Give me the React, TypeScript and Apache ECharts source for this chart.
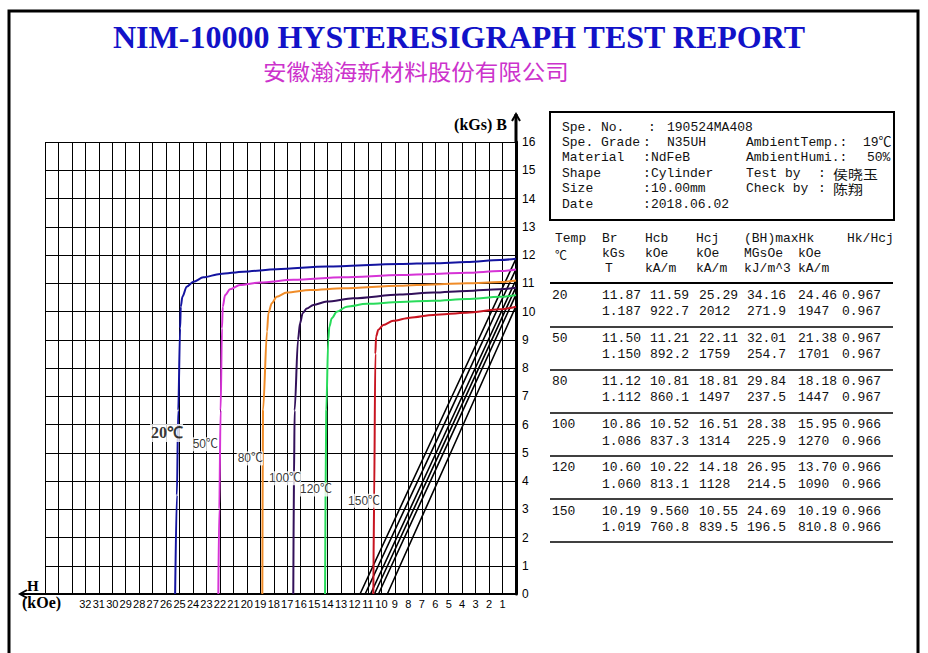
import React, { useEffect, useRef } from "react";
import * as echarts from "echarts";

// ---------- data ----------
const TEMPS = ["20", "50", "80", "100", "120", "150"];
const CURVE_COLORS = ["#1414a0", "#d633d6", "#f08c28", "#32105a", "#28dc5a", "#c81420"];

// intrinsic (J-H) curves: [H kOe, B kGs]
const J20 = [[0, 11.87], [1.19, 11.82], [3.66, 11.75], [6.14, 11.71], [8.62, 11.68], [14.06, 11.59], [17.78, 11.5], [20.26, 11.41], [21.99, 11.33], [23.23, 11.21], [23.97, 11.05], [24.47, 10.88], [24.79, 10.52], [24.91, 10.17], [24.96, 9.4], [25.1, 6.5], [25.2, 3.5], [25.33, 0]];
const J50 = [[0, 11.49], [1.19, 11.43], [3.66, 11.37], [6.14, 11.33], [8.62, 11.29], [12.83, 11.21], [16.54, 11.12], [19.02, 11.03], [20.51, 10.94], [21.25, 10.79], [21.62, 10.58], [21.79, 10.17], [21.85, 9.4], [21.95, 6.5], [22.05, 3.0], [22.12, 0]];
const J80 = [[0, 11.1], [1.19, 11.04], [3.66, 11.0], [6.14, 10.96], [8.62, 10.91], [12.83, 10.82], [15.3, 10.76], [17.04, 10.67], [17.78, 10.52], [18.15, 10.29], [18.4, 9.94], [18.5, 9.3], [18.8, 6.5], [18.85, 0]];
const J100 = [[0, 10.84], [1.19, 10.79], [3.66, 10.73], [6.14, 10.67], [8.62, 10.6], [12.09, 10.47], [14.06, 10.35], [15.06, 10.23], [15.55, 10.11], [15.85, 9.94], [16.05, 9.58], [16.2, 9.0], [16.45, 6.5], [16.5, 4.0], [16.55, 0]];
const J120 = [[0, 10.58], [1.19, 10.52], [3.66, 10.44], [6.14, 10.38], [8.62, 10.34], [11.09, 10.27], [12.58, 10.17], [13.32, 9.99], [13.69, 9.76], [13.87, 9.46], [13.95, 9.0], [14.1, 6.5], [14.19, 0]];
const J150 = [[0, 10.17], [1.19, 10.08], [3.66, 9.96], [6.14, 9.88], [7.88, 9.78], [9.12, 9.67], [9.86, 9.52], [10.23, 9.35], [10.4, 9.11], [10.45, 8.5], [10.55, 3.0], [10.6, 0]];
const J_CURVES = [J20, J50, J80, J100, J120, J150];

// normal (B-H) curves: [H, B]
const B20 = [[0, 11.87], [5.8, 5.93], [11.59, 0]];
const B50 = [[0, 11.5], [5.6, 5.74], [11.21, 0]];
const B80 = [[0, 11.12], [5.4, 5.55], [10.81, 0]];
const B100 = [[0, 10.86], [5.26, 5.42], [10.52, 0]];
const B120 = [[0, 10.6], [5.11, 5.29], [10.22, 0]];
const B150 = [[0, 10.19], [4.78, 5.08], [9.56, 0]];
const B_CURVES = [B20, B50, B80, B100, B120, B150];

// label anchors on the curves [H, B]
const CURVE_LABEL_AT = [[24.74, 5.7], [22.14, 5.3], [18.8, 4.8], [15.97, 4.1], [13.67, 3.7], [10.1, 3.3]];

// table values
const BR_KGS = ["11.87", "11.50", "11.12", "10.86", "10.60", "10.19"];
const BR_T = ["1.187", "1.150", "1.112", "1.086", "1.060", "1.019"];
const HCB_KOE = ["11.59", "11.21", "10.81", "10.52", "10.22", "9.560"];
const HCB_KAM = ["922.7", "892.2", "860.1", "837.3", "813.1", "760.8"];
const HCJ_KOE = ["25.29", "22.11", "18.81", "16.51", "14.18", "10.55"];
const HCJ_KAM = ["2012", "1759", "1497", "1314", "1128", "839.5"];
const BH_MGOE = ["34.16", "32.01", "29.84", "28.38", "26.95", "24.69"];
const BH_KJ = ["271.9", "254.7", "237.5", "225.9", "214.5", "196.5"];
const HK_KOE = ["24.46", "21.38", "18.18", "15.95", "13.70", "10.19"];
const HK_KAM = ["1947", "1701", "1447", "1270", "1090", "810.8"];
const HK_HCJ = ["0.967", "0.967", "0.967", "0.966", "0.966", "0.966"];

const INFO_LEFT = [
  ["Spe. No.", ":", "190524MA408"],
  ["Spe. Grade", ":", "N35UH"],
  ["Material", ":", "NdFeB"],
  ["Shape", ":", "Cylinder"],
  ["Size", ":", "10.00mm"],
  ["Date", ":", "2018.06.02"],
];
const INFO_RIGHT = [
  ["", "", ""],
  ["AmbientTemp.:", "", "19℃"],
  ["AmbientHumi.:", "", "50%"],
  ["Test by", ":", "侯晓玉"],
  ["Check by", ":", "陈翔"],
  ["", "", ""],
];
const HEADER_ROWS = [
  ["Temp", "Br", "Hcb", "Hcj", "(BH)maxHk", "", "Hk/Hcj"],
  ["℃", "kGs", "kOe", "kOe", "MGsOe", "kOe", ""],
  ["", "T", "kA/m", "kA/m", "kJ/m^3", "kA/m", ""],
];

const TITLE = "NIM-10000 HYSTERESIGRAPH TEST REPORT";
const SUBTITLE = "安徽瀚海新材料股份有限公司";

// ---------- layout ----------
const W = 928;
const H = 653;
const GL = 45, GR = 516, GT = 142, GB = 594;
const MONO = '"Liberation Mono", "Noto Sans CJK SC", monospace';
const SERIF = '"Liberation Serif", serif';
const SANS = '"Liberation Sans", "Noto Sans CJK SC", sans-serif';

function txt(text: string, x: number, y: number, opts: any = {}) {
  const align = opts.align || "left";
  return {
    type: "text",
    x,
    y,
    z: 50,
    style: {
      text,
      fill: opts.fill || "#111",
      font: opts.font || `13px ${MONO}`,
      textAlign: align,
      align,
      textVerticalAlign: "middle",
      verticalAlign: "middle",
    },
    scaleX: opts.scaleX || 1,
  };
}

function hline(x1: number, x2: number, y: number, w: number) {
  return { type: "line", z: 50, shape: { x1, y1: y, x2, y2: y }, style: { stroke: "#000", lineWidth: w } };
}

function buildGraphic() {
  const g: any[] = [];
  // outer frame
  g.push({ type: "rect", z: 40, shape: { x: 9, y: 11, width: 909, height: 700 }, style: { fill: "none", stroke: "#000", lineWidth: 3 } });
  // titles
  g.push(txt(TITLE, 459, 37, { font: `bold 32px ${SERIF}`, fill: "#1212c8", align: "center" }));
  g.push({
    type: "text", x: 416, y: 71, z: 50, scaleX: 1.07,
    style: { text: SUBTITLE, fill: "#cc33cc", font: `22px "Noto Sans CJK SC"`, textAlign: "center", align: "center", textVerticalAlign: "middle", verticalAlign: "middle" },
  });
  // axis extensions and arrows
  g.push({ type: "line", z: 45, shape: { x1: GR, y1: GT, x2: GR, y2: 114 }, style: { stroke: "#000", lineWidth: 3 } });
  g.push({ type: "polyline", z: 45, shape: { points: [[GR - 4, 121], [GR, 114], [GR + 4, 121]] }, style: { stroke: "#000", lineWidth: 2, fill: "none" } });
  g.push({ type: "line", z: 45, shape: { x1: GL, y1: GB, x2: 20, y2: GB }, style: { stroke: "#000", lineWidth: 2 } });
  g.push({ type: "polyline", z: 45, shape: { points: [[27, GB - 4], [20, GB], [27, GB + 4]] }, style: { stroke: "#000", lineWidth: 2, fill: "none" } });
  g.push(txt("(kGs) B", 507, 124, { font: `bold 16px ${SERIF}`, fill: "#000", align: "right" }));
  g.push(txt("H", 27, 586, { font: `bold 15px ${SERIF}`, fill: "#000" }));
  g.push(txt("(kOe)", 22, 602, { font: `bold 16px ${SERIF}`, fill: "#000" }));

  // info box
  g.push({ type: "rect", z: 45, shape: { x: 550, y: 112, width: 344, height: 108 }, style: { fill: "none", stroke: "#000", lineWidth: 2 } });
  const infoY = [127, 142, 157.5, 173, 188, 204];
  const colonX = [648, 643, 643, 643, 643, 643];
  const valueX = [667, 667, 651, 651, 651, 651];
  INFO_LEFT.forEach((r, i) => {
    g.push(txt(r[0], 562, infoY[i]));
    g.push(txt(r[1], colonX[i], infoY[i]));
    g.push(txt(r[2], valueX[i], infoY[i]));
  });
  INFO_RIGHT.forEach((r, i) => {
    if (!r[0]) return;
    g.push(txt(r[0], 746, infoY[i]));
    if (r[1]) g.push(txt(r[1], 818, infoY[i]));
    const cjk = i >= 3;
    g.push(txt(r[2], cjk ? 833 : (i === 1 ? 863 : 867), infoY[i], cjk ? { font: `13px "Noto Sans CJK SC"`, scaleX: 1.15 } : {}));
  });

  // header
  const hx = [555, 602, 645, 696, 744, 798, 847];
  const hy = [238, 253, 268];
  HEADER_ROWS.forEach((row, ri) => {
    row.forEach((t, ci) => {
      if (!t) return;
      const x = ri === 2 && ci === 1 ? 605 : hx[ci];
      g.push(txt(t, x, t === "℃" ? hy[ri] + 1 : hy[ri], t === "℃" ? { font: `12px "Noto Sans CJK SC"` } : {}));
    });
  });
  g.push(hline(550, 893, 283, 2));

  // rows
  const cx = [552, 602, 650, 699, 747, 798, 842];
  TEMPS.forEach((t, i) => {
    const y1 = 295 + i * 43.2;
    const y2 = y1 + 16.5;
    g.push(txt(t, cx[0], y1));
    const top = [BR_KGS[i], HCB_KOE[i], HCJ_KOE[i], BH_MGOE[i], HK_KOE[i], HK_HCJ[i]];
    const bot = [BR_T[i], HCB_KAM[i], HCJ_KAM[i], BH_KJ[i], HK_KAM[i], HK_HCJ[i]];
    top.forEach((v, k) => g.push(txt(v, cx[k + 1], y1)));
    bot.forEach((v, k) => g.push(txt(v, cx[k + 1], y2)));
    g.push(hline(550, 893, 327 + i * 43, 1.5));
  });
  return g;
}

function buildOption() {
  const series: any[] = [];
  B_CURVES.forEach((d, i) => {
    series.push({
      name: `B ${TEMPS[i]}`,
      type: "line",
      data: d,
      showSymbol: false,
      symbol: "none",
      lineStyle: { color: "#000", width: 1.6 },
      z: 3,
      silent: true,
    });
  });
  J_CURVES.forEach((d, i) => {
    series.push({
      name: `J ${TEMPS[i]}`,
      type: "line",
      data: d,
      symbol: "none",
      smooth: 0.3,
      smoothMonotone: "x",
      lineStyle: { color: CURVE_COLORS[i], width: 2 },
      z: 4,
      silent: true,
    });
  });
  series.push({
    type: "scatter",
    symbolSize: 0,
    z: 10,
    silent: true,
    data: CURVE_LABEL_AT.map((p, i) => ({
      value: p,
      label: {
        show: true,
        position: "left",
        distance: 0,
        formatter: `${TEMPS[i]}℃`,
        color: "#000",
        backgroundColor: "#fff",
        padding: [1, 0, 1, 1],
        fontFamily: i === 0 ? SERIF : SANS,
        fontWeight: i === 0 ? "bold" : "normal",
        fontSize: i === 0 ? 16 : 12,
      },
    })),
  });

  return {
    animation: false,
    backgroundColor: "#fff",
    grid: { left: GL, right: W - GR, top: GT, bottom: H - GB, containLabel: false },
    xAxis: {
      type: "value",
      min: 0,
      max: 35,
      interval: 1,
      inverse: true,
      axisLine: { show: true, onZero: false, lineStyle: { color: "#000", width: 2 } },
      axisTick: { show: false },
      splitLine: { show: true, lineStyle: { color: "#000", width: 1 } },
      axisLabel: {
        show: true,
        margin: 4,
        color: "#000",
        fontSize: 11,
        fontFamily: SANS,
        formatter: (v: number) => (v >= 1 && v <= 32 ? String(v) : ""),
      },
    },
    yAxis: {
      type: "value",
      position: "right",
      min: 0,
      max: 16,
      interval: 1,
      axisLine: { show: true, onZero: false, lineStyle: { color: "#000", width: 3 } },
      axisTick: { show: false },
      splitLine: { show: true, lineStyle: { color: "#000", width: 1 } },
      axisLabel: { margin: 6, color: "#000", fontSize: 12, fontFamily: SANS },
    },
    series,
    graphic: buildGraphic(),
  };
}

export default function App() {
  const ref = useRef<HTMLDivElement>(null);
  useEffect(() => {
    if (!ref.current) return;
    const chart = echarts.init(ref.current, null, { renderer: "svg" });
    chart.setOption(buildOption() as any);
    return () => chart.dispose();
  }, []);
  return <div ref={ref} style={{ position: "absolute", left: 0, top: 0, width: W, height: H, background: "#fff" }} />;
}
